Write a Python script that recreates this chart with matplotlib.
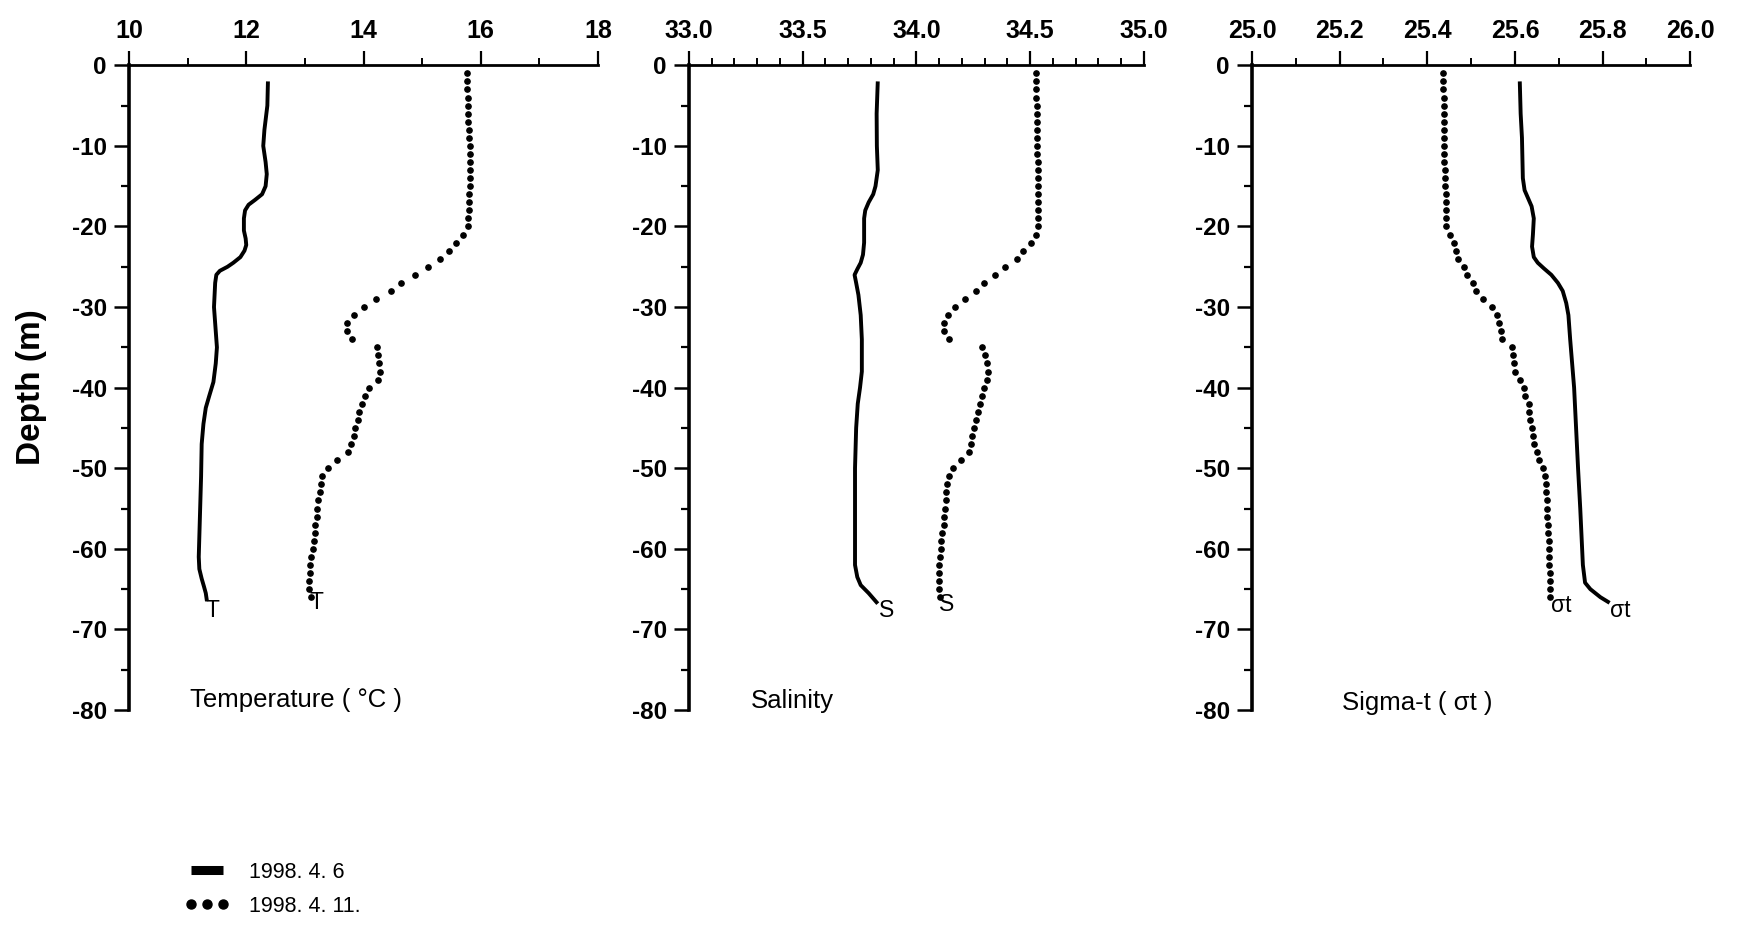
import numpy as np
import matplotlib
matplotlib.use("Agg")
import matplotlib.pyplot as plt
from matplotlib.lines import Line2D
from matplotlib.ticker import MultipleLocator, FormatStrFormatter

plt.rcParams["font.family"] = ["Liberation Sans", "DejaVu Sans"]
plt.rcParams["axes.unicode_minus"] = False

# 1998.4.6 -- continuous CTD trace (depth in m, positive down)
temp_depth_0406 = [2, 5, 8, 10, 12, 13.5, 15, 16, 16.7, 17.3, 18, 19, 20.5, 21.5, 22.3, 23,
                   23.8, 24.5, 25, 25.5, 26, 27, 30, 33, 35, 37, 39.3, 41, 42.5, 44.5, 47,
                   51, 56, 61, 62.5, 63.7, 64.7, 65.5, 66.5]
temp_0406 = [12.37, 12.36, 12.31, 12.29, 12.33, 12.35, 12.33, 12.27, 12.15, 12.04, 11.98,
             11.96, 11.96, 11.99, 12.0, 11.97, 11.9, 11.78, 11.68, 11.55, 11.49, 11.47,
             11.45, 11.48, 11.5, 11.48, 11.44, 11.37, 11.31, 11.27, 11.24, 11.23, 11.21,
             11.19, 11.2, 11.24, 11.28, 11.31, 11.33]

sal_depth_0406 = [2, 6, 10, 13, 15, 16, 17, 18, 19, 22, 23.5, 24.5, 25.3, 26, 27, 28.5,
                  31, 34, 38, 40, 42, 45, 50, 56, 62, 63.5, 64.5, 65.5, 66.8]
sal_0406 = [33.83, 33.825, 33.826, 33.83, 33.82, 33.81, 33.79, 33.775, 33.77, 33.77, 33.765,
            33.755, 33.74, 33.728, 33.735, 33.745, 33.755, 33.76, 33.76, 33.752, 33.742,
            33.735, 33.73, 33.73, 33.73, 33.74, 33.755, 33.79, 33.83]

sigma_depth_0406 = [2, 6, 9, 14, 15.5, 16.5, 17.5, 19, 21, 22.5, 23.8, 24.5, 25.2, 26, 27,
                    28, 29.5, 31, 34, 40, 50, 55, 62, 64.2, 65, 66, 66.7]
sigma_0406 = [25.611, 25.613, 25.616, 25.618, 25.622, 25.630, 25.638, 25.643, 25.641,
              25.639, 25.643, 25.652, 25.666, 25.683, 25.698, 25.709, 25.717, 25.722,
              25.726, 25.735, 25.744, 25.749, 25.755, 25.760, 25.772, 25.795, 25.816]

# 1998.4.11 -- one sample per metre, 1 m to 66 m
depth_0411 = np.arange(1, 67)
temp_0411 = [15.76, 15.77, 15.77, 15.78, 15.78, 15.79, 15.79, 15.80, 15.80, 15.81,
             15.81, 15.82, 15.82, 15.81, 15.81, 15.80, 15.80, 15.80, 15.79, 15.79,
             15.70, 15.58, 15.45, 15.30, 15.10, 14.88, 14.64, 14.47, 14.22, 14.00,
             13.83, 13.72, 13.72, 13.80, 14.23, 14.25, 14.27, 14.28, 14.24, 14.10,
             14.03, 13.98, 13.93, 13.90, 13.86, 13.83, 13.79, 13.73, 13.55, 13.40,
             13.30, 13.27, 13.25, 13.23, 13.21, 13.20, 13.18, 13.17, 13.15, 13.13,
             13.11, 13.09, 13.08, 13.07, 13.07, 13.10]
sal_0411 = [34.525, 34.526, 34.527, 34.527, 34.528, 34.528, 34.529, 34.530, 34.530, 34.531,
            34.532, 34.533, 34.534, 34.535, 34.536, 34.536, 34.536, 34.536, 34.535, 34.535,
            34.525, 34.505, 34.470, 34.440, 34.390, 34.345, 34.295, 34.260, 34.215, 34.170,
            34.140, 34.120, 34.120, 34.145, 34.290, 34.300, 34.310, 34.313, 34.312, 34.297,
            34.286, 34.279, 34.270, 34.260, 34.252, 34.245, 34.240, 34.233, 34.195, 34.162,
            34.144, 34.135, 34.132, 34.129, 34.126, 34.123, 34.119, 34.114, 34.110, 34.106,
            34.103, 34.101, 34.100, 34.100, 34.100, 34.103]
sigma_0411 = [25.436, 25.436, 25.436, 25.437, 25.437, 25.437, 25.437, 25.437, 25.437, 25.438,
              25.438, 25.439, 25.440, 25.441, 25.441, 25.442, 25.442, 25.443, 25.443, 25.443,
              25.451, 25.460, 25.466, 25.471, 25.484, 25.491, 25.504, 25.512, 25.527, 25.548,
              25.558, 25.564, 25.568, 25.570, 25.593, 25.595, 25.597, 25.600, 25.611, 25.620,
              25.624, 25.631, 25.633, 25.635, 25.639, 25.641, 25.644, 25.650, 25.656, 25.665,
              25.669, 25.670, 25.671, 25.672, 25.673, 25.674, 25.675, 25.676, 25.677, 25.677,
              25.678, 25.678, 25.679, 25.679, 25.680, 25.680]

legend_labels = ["1998. 4. 6", "1998. 4. 11."]

panels = [
    dict(rect=[0.0734, 0.2324, 0.267, 0.697], xlim=(10, 18), major=2, minor=1, fmt="%d",
         solid=(temp_depth_0406, temp_0406), dots=temp_0411,
         name="Temperature ( \u00b0C )", name_xy=(11.04, -78.8),
         tags=[("T", 11.42, -67.7), ("T", 13.2, -66.6)]),
    dict(rect=[0.3921, 0.2324, 0.259, 0.697], xlim=(33.0, 35.0), major=0.5, minor=0.1, fmt="%.1f",
         solid=(sal_depth_0406, sal_0406), dots=sal_0411,
         name="Salinity", name_xy=(33.27, -78.9),
         tags=[("S", 33.87, -67.7), ("S", 34.134, -66.9)]),
    dict(rect=[0.7126, 0.2324, 0.2494, 0.697], xlim=(25.0, 26.0), major=0.2, minor=0.1, fmt="%.1f",
         solid=(sigma_depth_0406, sigma_0406), dots=sigma_0411,
         name="Sigma-t ( \u03c3t )", name_xy=(25.206, -79.1),
         tags=[("\u03c3t", 25.84, -67.6), ("\u03c3t", 25.706, -67.0)]),
]

fig = plt.figure(figsize=(17.57, 9.25), dpi=100)

for p in panels:
    ax = fig.add_axes(p["rect"])
    depth, vals = p["solid"]
    ax.plot(vals, -np.asarray(depth), color="black", lw=2.8, solid_capstyle="butt",
            solid_joinstyle="round")
    ax.plot(p["dots"], -depth_0411, ls="none", marker="o", ms=3.8, color="black")

    ax.set_xlim(*p["xlim"])
    ax.set_ylim(-80, 0)
    ax.xaxis.tick_top()
    ax.xaxis.set_major_locator(MultipleLocator(p["major"]))
    ax.xaxis.set_minor_locator(MultipleLocator(p["minor"]))
    ax.xaxis.set_major_formatter(FormatStrFormatter(p["fmt"]))
    ax.yaxis.set_major_locator(MultipleLocator(10))
    ax.yaxis.set_minor_locator(MultipleLocator(5))

    ax.tick_params(axis="x", which="major", direction="out", length=10, width=1.6,
                   pad=6, labelsize=18)
    ax.tick_params(axis="x", which="minor", direction="out", length=5, width=1.4)
    ax.tick_params(axis="y", which="major", direction="out", length=11, width=1.8,
                   pad=5, labelsize=17.5)
    ax.tick_params(axis="y", which="minor", direction="out", length=6, width=1.6)
    for lab in ax.get_xticklabels() + ax.get_yticklabels():
        lab.set_fontweight("bold")

    ax.spines["right"].set_visible(False)
    ax.spines["bottom"].set_visible(False)
    ax.spines["left"].set_linewidth(2.6)
    ax.spines["top"].set_linewidth(2.0)

    ax.text(p["name_xy"][0], p["name_xy"][1], p["name"], fontsize=18.5,
            ha="left", va="center")
    for txt, x, y in p["tags"]:
        ax.text(x, y, txt, fontsize=16.5, ha="center", va="center")

fig.text(0.018, 0.582, "Depth (m)", rotation=90, fontsize=24, fontweight="bold",
         ha="center", va="center")

handles = [
    Line2D([], [], color="black", lw=6.5, solid_capstyle="butt"),
    Line2D([], [], ls="none", marker="o", ms=6.5, color="black"),
]
fig.legend(handles, legend_labels, loc="upper left", bbox_to_anchor=(0.095, 0.087),
           frameon=False, numpoints=3, handlelength=2.1, handletextpad=0.9,
           fontsize=15.5, labelspacing=0.6, borderpad=0.3)

fig.savefig("out.png", dpi=100)
